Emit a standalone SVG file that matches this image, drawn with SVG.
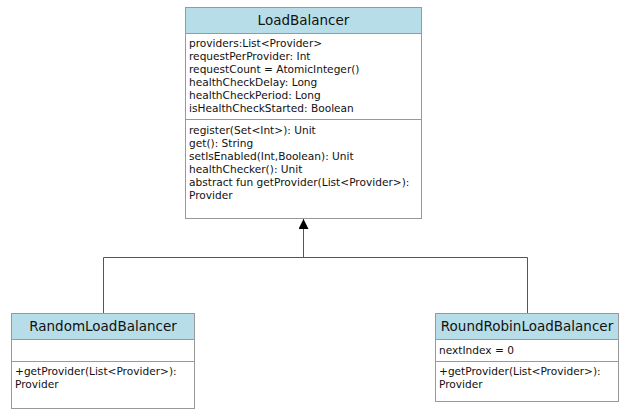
<svg xmlns="http://www.w3.org/2000/svg" width="633" height="417" viewBox="0 0 633 417">
<style>
.box{fill:#fff;stroke:#999;stroke-width:1}
.hdr{fill:#b7dee8;stroke:#999;stroke-width:1}
.sep{stroke:#999;stroke-width:1}
.title{font-family:"DejaVu Sans",sans-serif;font-size:13.5px;fill:#111;text-anchor:middle}
.t{font-family:"DejaVu Sans",sans-serif;font-size:10.6px;fill:#111}
.edge{fill:none;stroke:#555;stroke-width:1}
</style>
<defs>
<marker id="tri" viewBox="0 0 10 10" refX="10" refY="5" markerWidth="10" markerHeight="10" markerUnits="userSpaceOnUse" orient="auto">
<path d="M0,0 L10,5 L0,10 z" fill="#000"/>
</marker>
</defs>
<rect width="633" height="417" fill="#fff"/>
<g id="edges">
<path class="edge" d="M103.5,313 V257.5 H527.5 V313"/>
<path class="edge" d="M303.5,257.5 V219" marker-end="url(#tri)"/>
</g>
<g id="LoadBalancer">
<rect class="box" x="185.5" y="7.5" width="236" height="211"/>
<rect class="hdr" x="185.5" y="7.5" width="236" height="26"/>
<line class="sep" x1="185.5" y1="119.5" x2="421.5" y2="119.5"/>
<text class="title" x="303.5" y="25">LoadBalancer</text>
<text class="t" x="189" y="47">providers:List&lt;Provider&gt;</text>
<text class="t" x="189" y="60">requestPerProvider: Int</text>
<text class="t" x="189" y="73">requestCount = AtomicInteger()</text>
<text class="t" x="189" y="86">healthCheckDelay: Long</text>
<text class="t" x="189" y="99">healthCheckPeriod: Long</text>
<text class="t" x="189" y="112">isHealthCheckStarted: Boolean</text>
<text class="t" x="189" y="134">register(Set&lt;Int&gt;): Unit</text>
<text class="t" x="189" y="147">get(): String</text>
<text class="t" x="189" y="160">setIsEnabled(Int,Boolean): Unit</text>
<text class="t" x="189" y="173">healthChecker(): Unit</text>
<text class="t" x="189" y="186">abstract fun getProvider(List&lt;Provider&gt;):</text>
<text class="t" x="189" y="199">Provider</text>
</g>
<g id="RandomLoadBalancer">
<rect class="box" x="11.5" y="313.5" width="183" height="95"/>
<rect class="hdr" x="11.5" y="313.5" width="183" height="26"/>
<line class="sep" x1="11.5" y1="361.5" x2="194.5" y2="361.5"/>
<text class="title" x="103" y="331">RandomLoadBalancer</text>
<text class="t" x="15" y="375">+getProvider(List&lt;Provider&gt;):</text>
<text class="t" x="15" y="388">Provider</text>
</g>
<g id="RoundRobinLoadBalancer">
<rect class="box" x="435.5" y="313.5" width="183" height="88"/>
<rect class="hdr" x="435.5" y="313.5" width="183" height="26"/>
<line class="sep" x1="435.5" y1="361.5" x2="618.5" y2="361.5"/>
<text class="title" x="527" y="331">RoundRobinLoadBalancer</text>
<text class="t" x="439" y="354">nextIndex = 0</text>
<text class="t" x="439" y="375">+getProvider(List&lt;Provider&gt;):</text>
<text class="t" x="439" y="388">Provider</text>
</g>
</svg>
